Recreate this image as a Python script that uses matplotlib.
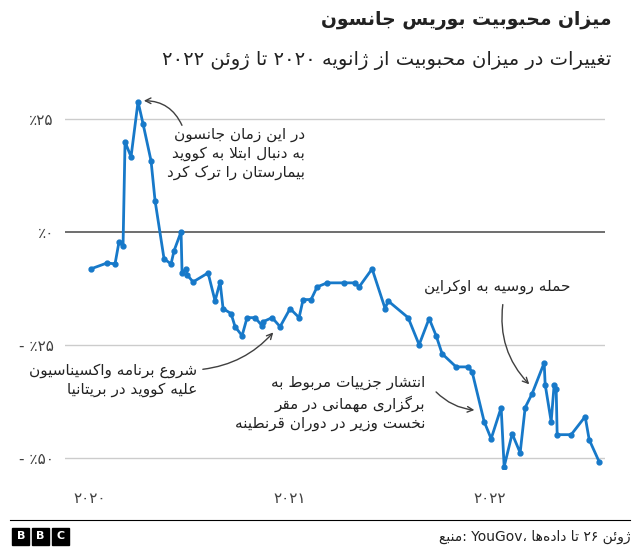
import matplotlib
matplotlib.use("Agg")
import matplotlib.pyplot as plt
from matplotlib.patches import Rectangle

# داده‌ها (سال اعشاری، درصد تغییر محبوبیت)
dates = [2020.005, 2020.085, 2020.125, 2020.145, 2020.165, 2020.175, 2020.205, 2020.24,
         2020.265, 2020.305, 2020.325, 2020.37, 2020.405, 2020.42, 2020.455, 2020.46,
         2020.48, 2020.485, 2020.515, 2020.59, 2020.625, 2020.65, 2020.665, 2020.705,
         2020.725, 2020.76, 2020.785, 2020.825, 2020.86, 2020.865, 2020.91, 2020.95,
         2021.0, 2021.045, 2021.065, 2021.105, 2021.135, 2021.185, 2021.27, 2021.325,
         2021.345, 2021.41, 2021.475, 2021.49, 2021.59, 2021.645, 2021.695, 2021.73,
         2021.76, 2021.83, 2021.89, 2021.91, 2021.97, 2022.005, 2022.055, 2022.07,
         2022.11, 2022.15, 2022.175, 2022.21, 2022.27, 2022.275, 2022.305, 2022.32,
         2022.33, 2022.335, 2022.405, 2022.475, 2022.495, 2022.545]
values = [-8.2, -6.9, -7.1, -2.2, -3.1, 19.9, 16.6, 28.8, 23.9, 15.7, 6.9, -6.0,
          -7.1, -4.2, 0.0, -9.1, -8.2, -9.5, -11.1, -9.1, -15.3, -11.1, -17.0, -18.1,
          -21.0, -23.0, -19.0, -19.0, -20.8, -19.9, -19.0, -21.0, -17.0, -19.0, -15.0,
          -15.0, -12.2, -11.3, -11.3, -11.3, -12.2, -8.2, -17.0, -15.3, -19.0, -25.0,
          -19.2, -23.0, -27.0, -29.9, -29.9, -31.0, -42.0, -45.8, -38.9, -52.0, -44.7,
          -48.9, -38.9, -35.8, -29.0, -33.8, -42.0, -33.8, -34.7, -44.9, -44.9, -40.9,
          -46.0, -50.9]
yticks = [25, 0, -25, -50]
ytick_labels = ["٪۲۵", "٪۰", "- ٪۲۵", "- ٪۵۰"]
xticks = [2020, 2021, 2022]
xtick_labels = ["۲۰۲۰", "۲۰۲۱", "۲۰۲۲"]

# شکل‌دهی ساده حروف فارسی (matplotlib خودش این کار را نمی‌کند)
FORMS = {
    'ا': (0xFE8D, 0xFE8E), 'آ': (0xFE81, 0xFE82), 'د': (0xFEA9, 0xFEAA), 'ذ': (0xFEAB, 0xFEAC),
    'ر': (0xFEAD, 0xFEAE), 'ز': (0xFEAF, 0xFEB0), 'ژ': (0xFB8A, 0xFB8B), 'و': (0xFEED, 0xFEEE),
    'ب': (0xFE8F, 0xFE90, 0xFE91, 0xFE92), 'پ': (0xFB56, 0xFB57, 0xFB58, 0xFB59),
    'ت': (0xFE95, 0xFE96, 0xFE97, 0xFE98), 'ث': (0xFE99, 0xFE9A, 0xFE9B, 0xFE9C),
    'ج': (0xFE9D, 0xFE9E, 0xFE9F, 0xFEA0), 'چ': (0xFB7A, 0xFB7B, 0xFB7C, 0xFB7D),
    'ح': (0xFEA1, 0xFEA2, 0xFEA3, 0xFEA4), 'خ': (0xFEA5, 0xFEA6, 0xFEA7, 0xFEA8),
    'س': (0xFEB1, 0xFEB2, 0xFEB3, 0xFEB4), 'ش': (0xFEB5, 0xFEB6, 0xFEB7, 0xFEB8),
    'ص': (0xFEB9, 0xFEBA, 0xFEBB, 0xFEBC), 'ض': (0xFEBD, 0xFEBE, 0xFEBF, 0xFEC0),
    'ط': (0xFEC1, 0xFEC2, 0xFEC3, 0xFEC4), 'ظ': (0xFEC5, 0xFEC6, 0xFEC7, 0xFEC8),
    'ع': (0xFEC9, 0xFECA, 0xFECB, 0xFECC), 'غ': (0xFECD, 0xFECE, 0xFECF, 0xFED0),
    'ف': (0xFED1, 0xFED2, 0xFED3, 0xFED4), 'ق': (0xFED5, 0xFED6, 0xFED7, 0xFED8),
    'ک': (0xFB8E, 0xFB8F, 0xFB90, 0xFB91), 'گ': (0xFB92, 0xFB93, 0xFB94, 0xFB95),
    'ل': (0xFEDD, 0xFEDE, 0xFEDF, 0xFEE0), 'م': (0xFEE1, 0xFEE2, 0xFEE3, 0xFEE4),
    'ن': (0xFEE5, 0xFEE6, 0xFEE7, 0xFEE8), 'ه': (0xFEE9, 0xFEEA, 0xFEEB, 0xFEEC),
    'ی': (0xFBFC, 0xFBFD, 0xFBFE, 0xFBFF), 'ئ': (0xFE89, 0xFE8A, 0xFE8B, 0xFE8C),
}


def shape(text):
    chars = list(text)
    out = []
    i = 0
    while i < len(chars):
        c = chars[i]
        if c not in FORMS:
            if c != '\u200c':
                out.append(c)
            i += 1
            continue
        prev = chars[i - 1] if i > 0 else None
        joins_prev = prev in FORMS and len(FORMS[prev]) == 4
        # لا
        if c == 'ل' and i + 1 < len(chars) and chars[i + 1] == 'ا':
            out.append(chr(0xFEFC if joins_prev else 0xFEFB))
            i += 2
            continue
        nxt = chars[i + 1] if i + 1 < len(chars) else None
        f = FORMS[c]
        joins_next = len(f) == 4 and nxt in FORMS
        if joins_prev and joins_next:
            g = f[3]
        elif joins_prev:
            g = f[1]
        elif joins_next:
            g = f[2]
        else:
            g = f[0]
        out.append(chr(g))
        i += 1
    # ترتیب دیداری: اعداد و حروف لاتین چپ به راست می‌مانند
    tokens = []
    for ch in out:
        ltr = ch.isascii() and ch.isalnum() or '\u06f0' <= ch <= '\u06f9'
        if tokens and tokens[-1][0] == ltr:
            tokens[-1][1].append(ch)
        else:
            tokens.append([ltr, [ch]])
    res = ''
    for ltr, t in reversed(tokens):
        res += ''.join(t) if ltr else ''.join(reversed(t))
    return res


def fa(text):
    return '\n'.join(shape(line) for line in text.split('\n'))


plt.rcParams['font.family'] = ['DejaVu Sans']
BLUE = '#1779c9'
GREY = '#404040'

fig = plt.figure(figsize=(6.4, 5.49), dpi=100)
ax = fig.add_axes([0.1016, 0.1457, 0.844, 0.679])

for v in yticks:
    ax.axhline(v, color='#555555' if v == 0 else '#cccccc', lw=1.2 if v == 0 else 1, zorder=1)
ax.plot(dates, values, color=BLUE, lw=2, marker='o', ms=3.5, zorder=3)

ax.set_xlim(2019.875, 2022.575)
ax.set_ylim(-52.5, 30)
ax.set_xticks(xticks)
ax.set_xticklabels(xtick_labels)
ax.set_yticks(yticks)
ax.set_yticklabels(ytick_labels)
ax.tick_params(length=0, labelsize=11, colors='#404040')
ax.tick_params(axis='x', pad=16)
ax.tick_params(axis='y', pad=8)
for s in ax.spines.values():
    s.set_visible(False)

ann_kw = dict(fontsize=11, color='#222222', ha='right', va='top', multialignment='right', linespacing=1.35)
arrow_kw = dict(arrowstyle='->', color=GREY, lw=1)

ax.text(2021.075, 23.3, fa("در این زمان جانسون\nبه دنبال ابتلا به کووید\nبیمارستان را ترک کرد"), **ann_kw)
ax.annotate('', xy=(2020.255, 29.0), xytext=(2020.465, 23.0),
            arrowprops=dict(connectionstyle='arc3,rad=0.35', **arrow_kw))

ax.text(2020.535, -29.0, fa("شروع برنامه واکسیناسیون\nعلیه کووید در بریتانیا"), **ann_kw)
ax.annotate('', xy=(2020.925, -21.8), xytext=(2020.55, -30.5),
            arrowprops=dict(connectionstyle='arc3,rad=0.2', **arrow_kw))

ax.text(2021.675, -31.8, fa("انتشار جزییات مربوط به\nبرگزاری مهمانی در مقر\nنخست وزیر در دوران قرنطینه"), **ann_kw)
ax.annotate('', xy=(2021.935, -39.5), xytext=(2021.72, -35.0),
            arrowprops=dict(connectionstyle='arc3,rad=0.2', **arrow_kw))

ax.text(2022.4, -10.5, fa("حمله روسیه به اوکراین"), **ann_kw)
ax.annotate('', xy=(2022.205, -34.2), xytext=(2022.065, -15.5),
            arrowprops=dict(connectionstyle='arc3,rad=0.25', **arrow_kw))

# عنوان‌ها
fig.text(0.955, 0.962, fa("میزان محبوبیت بوریس جانسون"), ha='right', va='center',
         fontsize=13.5, fontweight='bold', color='#222222')
fig.text(0.955, 0.89, fa("تغییرات در میزان محبوبیت از ژانویه ۲۰۲۰ تا ژوئن ۲۰۲۲"), ha='right', va='center',
         fontsize=14, color='#222222')

# پانویس
fig.add_artist(plt.Line2D([0.015, 0.985], [0.052, 0.052], color='black', lw=0.8))
for k, letter in enumerate("BBC"):
    x0 = 0.019 + k * 0.031
    fig.add_artist(Rectangle((x0, 0.008), 0.027, 0.031, color='black', transform=fig.transFigure))
    fig.text(x0 + 0.0135, 0.0235, letter, ha='center', va='center', color='white',
             fontsize=8, fontweight='bold')
# در تصویر مرجع واژه‌های پانویس از چپ به راست چیده شده‌اند
source_text = ' '.join([shape("منبع") + ":", "YouGov" + "،", shape("داده‌ها"), shape("تا"),
                        "۲۶", shape("ژوئن")])
fig.text(0.985, 0.022, source_text, ha='right', va='center', fontsize=10, color='#222222')

fig.savefig('out.png', dpi=100)
